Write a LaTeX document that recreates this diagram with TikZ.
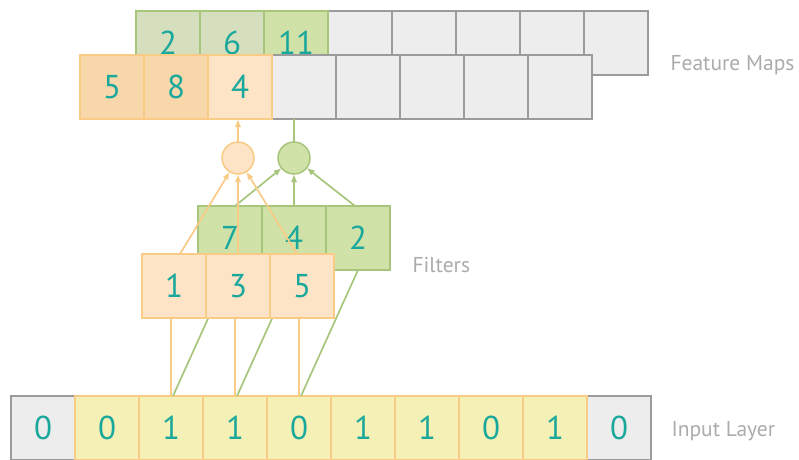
\documentclass[tikz,border=0pt]{standalone}
\usepackage{fontspec}
\setmainfont{PT Sans}
\usetikzlibrary{arrows.meta}

\definecolor{numteal}{HTML}{1AA89C}
\definecolor{padfill}{HTML}{EDEDED}
\definecolor{padline}{HTML}{9B9B9B}
\definecolor{infill}{HTML}{F5F0B6}
\definecolor{oline}{HTML}{F8CB86}
\definecolor{ofill}{HTML}{FDE4C6}
\definecolor{odark}{HTML}{F8D7AB}
\definecolor{gline}{HTML}{A8C57C}
\definecolor{gfill}{HTML}{D1E2A8}
\definecolor{gdull}{HTML}{D6DFBD}
\definecolor{lblgray}{HTML}{ABABAB}

\begin{document}
\begin{tikzpicture}[x=1pt,y=-1pt,
    cell/.style={draw,line width=1.5pt,minimum size=64pt,inner sep=0pt,outer sep=0pt,
      text=numteal,font=\fontsize{33}{33}\selectfont},
    pad/.style={cell,fill=padfill,draw=padline,line width=2pt},
    ocell/.style={cell,fill=#1,draw=oline},
    gcell/.style={cell,fill=#1,draw=gline},
    unit/.style={circle,line width=1.5pt,minimum size=32pt,inner sep=0pt,outer sep=0pt},
    owire/.style={draw=oline,line width=1.7pt},
    gwire/.style={draw=gline,line width=1.7pt},
    ohead/.style={owire,-{Latex[length=8pt,width=6.5pt]}},
    ghead/.style={gwire,-{Latex[length=8pt,width=6.5pt]}},
    lbl/.style={anchor=west,text=lblgray,font=\fontsize{21.5}{21.5}\selectfont}]
  \clip (0,0) rectangle (799,459);

  % feature maps, back row (green filter)
  \foreach \i in {4,...,8}
    \node[pad] (mg\i) at (104+64*\i,43) {};
  \foreach \i/\v/\c in {1/2/gdull,2/6/gdull,3/11/gfill}
    \node[gcell=\c] (mg\i) at (104+64*\i,43) {\v};

  % feature maps, front row (orange filter)
  \foreach \i in {4,...,8}
    \node[pad] (mo\i) at (48+64*\i,87) {};
  \foreach \i/\v/\c in {1/5/odark,2/8/odark,3/4/ofill}
    \node[ocell=\c] (mo\i) at (48+64*\i,87) {\v};
  \node[lbl] (fmlbl) at (667,65) {Feature Maps};

  % input layer with zero padding
  \node[pad] (in0) at (43,428) {0};
  \node[pad] (in9) at (619,428) {0};
  \foreach \i/\v in {1/0,2/1,3/1,4/0,5/1,6/1,7/0,8/1}
    \node[cell,fill=infill,draw=oline] (in\i) at (11+64*\i+32,428) {\v};
  \node[lbl] (inlbl) at (668,431) {Input Layer};

  % green filter and its inputs
  \foreach \i/\v in {1/7,2/4,3/2}
    \node[gcell=gfill] (fg\i) at (166+64*\i,238) {\v};
  \foreach \i in {1,2,3}
    \pgfmathtruncatemacro{\k}{\i+1}
    \draw[gwire] ([xshift=2pt]in\k.north) -- (fg\i.south);

  % orange filter and its inputs
  \foreach \i/\v in {1/1,2/3,3/5}
    \node[ocell=ofill] (fo\i) at (110+64*\i,286) {\v};
  \foreach \i in {1,2,3}
    \pgfmathtruncatemacro{\k}{\i+1}
    \draw[owire] (in\k.north) -- (in\k.north |- fo\i.south);
  \node[lbl] (fltlbl) at (409,265) {Filters};

  % neurons
  \node[unit,fill=ofill,draw=oline] (co) at (238,158) {};
  \node[unit,fill=gfill,draw=gline] (cg) at (294,158) {};

  \draw[ghead] ([xshift=5pt]fg1.north) -- (cg);
  \draw[ghead] (fg2.north) -- (cg);
  \draw[ghead] ([xshift=-3pt]fg3.north) -- (cg);

  \draw[ohead] ([xshift=6pt]fo1.north) -- (co);
  \draw[ohead] (fo2.north) -- (co);
  \draw[ohead] ([xshift=-5pt]fo3.north) -- (co);

  % outputs into the maps
  \draw[ohead] (co.north) -- (co.north |- mo3.south);
  \draw[gwire] (cg.north) -- (cg.north |- mo5.south);
\end{tikzpicture}
\end{document}
